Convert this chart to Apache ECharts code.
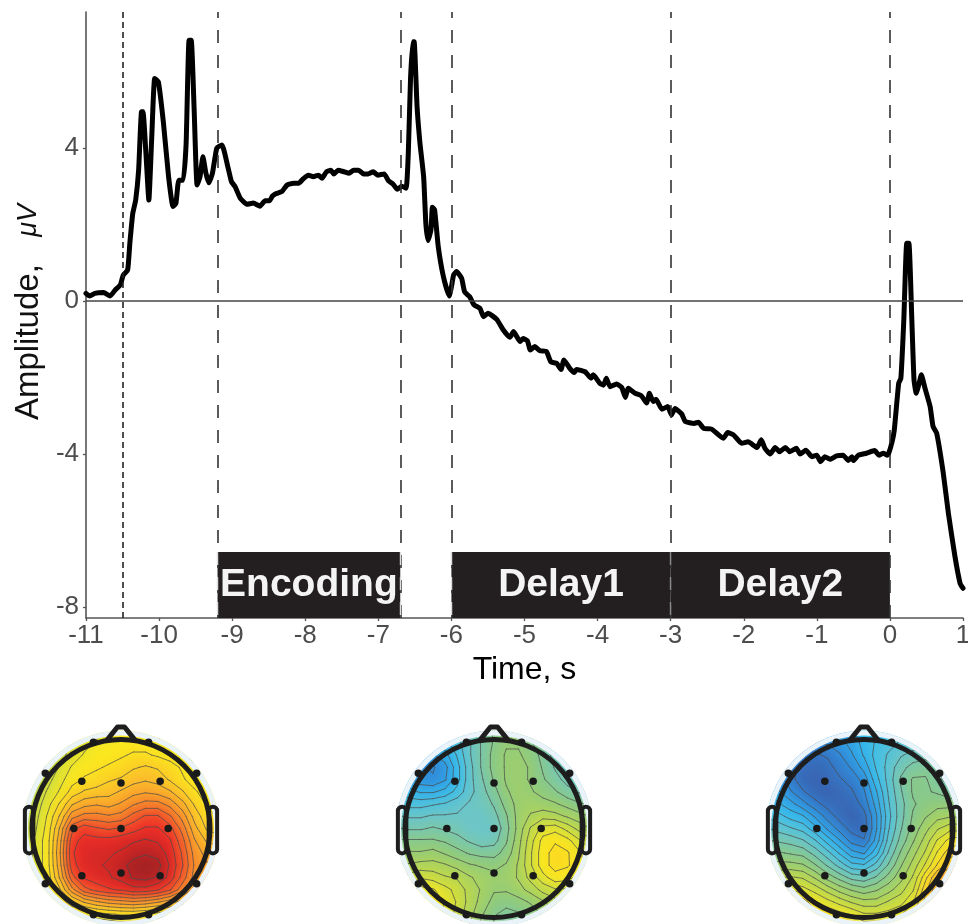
<!DOCTYPE html>
<html><head><meta charset="utf-8">
<style>
html,body{margin:0;padding:0;background:#fff;width:968px;height:924px;overflow:hidden}
#heat,#main{position:absolute;left:0;top:0;width:968px;height:924px}
#heat{filter:blur(5px)}
</style>
<script src="https://cdn.jsdelivr.net/npm/echarts@6/dist/echarts.min.js"></script>
</head><body>
<div id="heat"></div><div id="main"></div>
<script>
const times=[-11,-10.95,-10.88,-10.76,-10.67,-10.6,-10.53,-10.49,-10.43,-10.4,-10.36,-10.32,-10.28,-10.24,-10.22,-10.18,-10.14,-10.1,-10.06,-10.01,-9.94,-9.87,-9.81,-9.77,-9.73,-9.67,-9.63,-9.59,-9.56,-9.52,-9.48,-9.44,-9.4,-9.36,-9.32,-9.27,-9.21,-9.14,-9.07,-9.01,-8.96,-8.89,-8.8,-8.71,-8.62,-8.55,-8.49,-8.45,-8.41,-8.32,-8.25,-8.16,-8.09,-8.03,-7.96,-7.89,-7.82,-7.77,-7.71,-7.65,-7.61,-7.55,-7.47,-7.4,-7.34,-7.27,-7.2,-7.14,-7.07,-7.01,-6.92,-6.86,-6.8,-6.74,-6.68,-6.62,-6.59,-6.56,-6.53,-6.51,-6.47,-6.43,-6.38,-6.35,-6.32,-6.28,-6.26,-6.23,-6.18,-6.11,-6.03,-6,-5.97,-5.93,-5.86,-5.82,-5.75,-5.69,-5.61,-5.56,-5.5,-5.38,-5.29,-5.2,-5.15,-5.06,-5.02,-4.96,-4.92,-4.86,-4.79,-4.7,-4.64,-4.56,-4.5,-4.46,-4.38,-4.32,-4.29,-4.17,-4.09,-4.06,-3.97,-3.92,-3.88,-3.83,-3.74,-3.67,-3.62,-3.58,-3.49,-3.4,-3.33,-3.29,-3.24,-3.2,-3.12,-3.04,-2.99,-2.94,-2.85,-2.8,-2.68,-2.62,-2.55,-2.44,-2.28,-2.22,-2.14,-2.03,-1.94,-1.82,-1.76,-1.71,-1.64,-1.57,-1.51,-1.43,-1.37,-1.28,-1.23,-1.15,-1.07,-1,-0.95,-0.89,-0.82,-0.73,-0.64,-0.57,-0.52,-0.5,-0.43,-0.32,-0.21,-0.15,-0.09,-0.04,-0.02,0.03,0.06,0.12,0.15,0.19,0.23,0.26,0.3,0.33,0.36,0.4,0.43,0.48,0.55,0.59,0.64,0.73,0.8,0.89,0.96,1];
const amplitude=[0.2,0.13,0.2,0.22,0.13,0.29,0.42,0.68,0.81,1.51,2.29,2.64,3.42,4.95,4.95,3.86,2.64,4.3,5.82,5.73,4.65,3.25,2.47,2.55,3.16,3.16,4.12,6.82,6.82,4.99,3.03,3.25,3.77,3.35,3.09,3.34,4,4.08,3.6,3.12,2.99,2.69,2.53,2.56,2.48,2.62,2.62,2.74,2.8,2.86,3.03,3.08,3.08,3.19,3.29,3.25,3.29,3.21,3.38,3.42,3.32,3.42,3.38,3.34,3.42,3.42,3.32,3.32,3.38,3.29,3.32,3.14,3.06,2.92,3,2.95,3.86,5.78,6.78,6.78,5.08,4.12,3.25,2.03,1.58,1.86,2.45,2.38,1.42,0.64,0.13,0.37,0.68,0.77,0.59,0.24,0.11,-0.1,-0.19,-0.41,-0.32,-0.48,-0.76,-0.95,-0.8,-1.06,-0.98,-1.04,-1.28,-1.19,-1.3,-1.32,-1.59,-1.63,-1.79,-1.54,-1.76,-1.87,-1.79,-1.85,-2.02,-1.93,-2.15,-2.2,-2.02,-2.24,-2.17,-2.26,-2.52,-2.28,-2.41,-2.48,-2.67,-2.41,-2.63,-2.57,-2.83,-2.76,-2.98,-2.81,-2.95,-3.15,-3.2,-3.17,-3.33,-3.35,-3.59,-3.44,-3.5,-3.72,-3.68,-3.83,-3.63,-3.85,-4,-3.83,-3.94,-3.83,-3.94,-3.85,-4,-3.9,-4.07,-4.03,-4.2,-4.07,-4.14,-4.05,-4.03,-4.17,-4.07,-4.17,-4.03,-3.98,-3.91,-4.03,-3.98,-4.03,-4,-3.68,-3.37,-2.15,-2.02,-0.5,1.51,1.51,-0.5,-2.07,-2.41,-2.15,-1.93,-2.28,-2.76,-3.28,-3.46,-4.5,-5.55,-6.68,-7.38,-7.51];
const xTicks=[-11,-10,-9,-8,-7,-6,-5,-4,-3,-2,-1,0,1];
const yTicks=[-8,-4,0,4];
const eventTimes=[-9.2,-6.7,-6,-3,0];
const cueTime=-10.5;
const barNames=['Encoding','Delay1','Delay2'];
const barStarts=[-9.2,-6,-3];
const barEnds=[-6.7,-3,0];
const barTop=-6.56;
const electrodeU=[-0.44,0,0.44,-0.53,0,0.53,-0.44,0,0.44,-0.31,0.31,-0.85,0.85,-0.85,0.85,-0.31,0.31];
const electrodeV=[0.53,0.51,0.53,0,0,0,-0.53,-0.5,-0.53,0.97,0.97,0.62,0.62,-0.62,-0.62,-0.97,-0.97];
const mapEncoding=[
[5.5,5.5,5.5,5.5,5.5,5.5,5.6,5.8,6,6,5.8,5.6,5.5,5.5,5.5,5.5,5.5],
[5,5,5,5.2,5.4,5.6,5.8,5.9,6,6,6,5.9,5.6,5.4,5.2,5,5],
[4.8,4.8,5,5.2,5.5,5.8,6,6,6.1,6.2,6.2,6.1,6,5.8,5.5,5.2,5.2],
[4.8,4.8,5,5.4,5.8,6,6.1,6.2,6.3,6.5,6.6,6.5,6.3,6.1,5.9,5.6,5.5],
[4.8,4.9,5.2,5.6,6,6.2,6.3,6.5,6.6,6.8,6.9,6.8,6.5,6.2,6,5.8,5.7],
[4.9,5,5.4,5.8,6.3,6.6,6.7,6.8,7,7.2,7.3,7.2,7,6.6,6.2,6,5.9],
[5,5.1,5.6,6.2,6.9,7.2,7.3,7.2,7.4,7.7,7.9,7.9,7.6,7.1,6.5,6.1,6],
[5,5.2,5.8,6.6,7.6,7.9,7.9,7.8,7.9,8.3,8.6,8.6,8.2,7.6,6.8,6.3,6.1],
[5.1,5.3,5.9,7,8.4,8.8,8.6,8.5,8.6,8.8,9,9,8.7,8,7.1,6.5,6.3],
[5.1,5.4,6,7.2,8.8,9.1,9.1,9.1,9.2,9.3,9.4,9.3,9,8.3,7.4,6.9,6.8],
[5.2,5.4,6,7.3,8.9,9.2,9.3,9.3,9.4,9.6,9.7,9.6,9.2,8.5,7.6,7.2,7.2],
[5.2,5.4,6,7.2,8.8,9.2,9.3,9.4,9.6,9.9,10,9.9,9.3,8.6,7.7,7.4,7.4],
[5.2,5.4,5.9,7,8.4,9,9.2,9.3,9.5,9.8,9.9,9.7,9.2,8.4,7.6,7.3,7.3],
[5.1,5.2,5.7,6.5,7.6,8.4,8.7,8.9,9,9.2,9.2,9,8.6,7.9,7.2,7,7],
[5,5,5.3,5.8,6.5,7,7.3,7.5,7.6,7.7,7.6,7.4,7.1,6.8,6.5,6.5,6.5],
[4.8,4.8,4.9,5.2,5.5,5.8,6,6.1,6.2,6.2,6.1,6,5.8,5.7,5.8,6,6],
[4.6,4.6,4.7,4.8,5,5.2,5.3,5.4,5.5,5.5,5.4,5.3,5.2,5.2,5.4,5.6,5.8]];
const mapDelay1=[
[2.5,2.3,2.2,2.2,2.3,2.6,3,3.4,3.8,4,4,3.8,3.5,3.2,3,2.8,2.8],
[2.2,2,1.9,1.8,2,2.4,2.9,3.4,3.8,4.1,4.1,3.8,3.5,3.2,3,2.8,2.8],
[2,1.7,1.4,1.3,1.6,2.2,2.9,3.4,3.9,4.2,4.2,4,3.6,3.2,3,2.8,2.8],
[1.9,1.4,1,0.9,1.2,2,2.8,3.4,3.9,4.2,4.3,4.1,3.7,3.3,3,2.9,2.9],
[2,1.5,1.1,1,1.3,2,2.8,3.3,3.8,4.2,4.3,4.1,3.8,3.5,3.2,3,3],
[2.2,1.9,1.7,1.7,1.9,2.3,2.8,3.2,3.6,4.1,4.3,4.2,4,3.8,3.5,3.3,3.3],
[2.6,2.4,2.4,2.5,2.6,2.8,3,3.1,3.4,3.9,4.3,4.4,4.3,4.2,4,3.8,3.7],
[3,2.9,2.9,3,3,3,3,3,3.2,3.7,4.3,4.6,4.8,4.7,4.5,4.3,4.1],
[3.4,3.3,3.3,3.4,3.3,3.2,3,3,3,3.6,4.3,5,5.5,5.6,5.2,4.8,4.5],
[3.8,3.8,3.8,3.8,3.7,3.5,3.3,3.1,3.2,3.7,4.4,5.2,5.9,6.1,5.9,5.4,5],
[4.1,4.2,4.2,4.3,4.1,3.9,3.7,3.6,3.6,3.9,4.5,5.3,6,6.3,6.2,5.8,5.4],
[4.4,4.6,4.7,4.7,4.6,4.4,4.2,4.1,4,4.2,4.6,5.3,6,6.3,6.2,5.9,5.5],
[4.8,5.1,5.3,5.2,5,4.9,4.6,4.4,4.3,4.3,4.6,5.1,5.6,6,5.9,5.6,5.4],
[5.2,5.6,5.9,5.8,5.5,5.2,4.8,4.5,4.2,4.2,4.4,4.7,5.1,5.3,5.3,5.2,5.2],
[5.4,5.9,6.1,6.1,5.7,5.3,4.8,4.4,4,3.9,4,4.2,4.5,4.8,4.9,4.9,5],
[5.4,5.8,6,6,5.7,5.2,4.7,4.2,3.8,3.6,3.7,3.9,4.2,4.5,4.6,4.7,4.8],
[5.2,5.5,5.7,5.7,5.4,5,4.5,4,3.7,3.5,3.6,3.8,4,4.3,4.4,4.5,4.6]];
const mapDelay2=[
[1.8,1.8,1.7,1.6,1.5,1.5,1.6,1.7,1.9,2.1,2.3,2.5,2.6,2.7,2.7,2.7,2.7],
[1.6,1.5,1.4,1.2,1,1,1.2,1.5,1.9,2.2,2.4,2.6,2.7,2.8,2.8,2.7,2.7],
[1.6,1.3,1,0.7,0.5,0.6,0.9,1.3,1.8,2.3,2.6,2.9,3.1,3.2,3.1,2.9,2.8],
[1.6,1.2,0.7,0.4,0.3,0.4,0.7,1,1.5,2.2,2.7,3.2,3.5,3.6,3.4,3.1,2.9],
[1.7,1.2,0.7,0.3,0.2,0.3,0.5,0.7,1.1,2,2.7,3.4,3.8,3.8,3.5,3.1,3],
[1.8,1.4,1,0.6,0.3,0.2,0.3,0.5,0.9,1.7,2.6,3.3,3.8,3.8,3.7,3.5,3.3],
[2.1,1.8,1.5,1.1,0.7,0.4,0.3,0.3,0.7,1.5,2.5,3.2,3.7,3.9,4,4,3.9],
[2.5,2.3,2,1.8,1.3,0.8,0.4,0.2,0.4,1.3,2.4,3.2,3.8,4.1,4.4,4.5,4.5],
[3,2.8,2.6,2.4,1.9,1.3,0.8,0.4,0.3,1.3,2.5,3.3,3.9,4.4,4.9,5.2,5.2],
[3.4,3.3,3.2,3,2.6,2,1.4,0.8,0.6,1.5,2.7,3.5,4.1,4.7,5.4,5.9,6],
[3.8,3.8,3.7,3.6,3.2,2.7,2.1,1.5,1.3,2,3,3.8,4.4,5,5.8,6.4,6.5],
[4.2,4.3,4.3,4.2,3.8,3.3,2.8,2.3,2.2,2.7,3.4,4.1,4.7,5.4,6.2,6.8,7],
[4.7,4.9,5,4.9,4.5,4,3.6,3.2,3.1,3.4,3.9,4.4,5,6,7,7.7,7.9],
[5.6,5.8,5.7,5.5,5.2,4.8,4.4,4.1,3.9,4.1,4.4,4.8,5.3,6.4,7.3,8,8.2],
[7,7.2,6.9,6.4,5.8,5.5,5.2,4.9,4.7,4.7,5,5.2,5.7,6.7,7.5,8,8.2],
[7.4,7.5,7.2,6.7,6.4,6.1,5.9,5.7,5.4,5.4,5.5,5.7,6.1,6.6,7.2,7.8,8],
[7.8,7.8,7.5,7.1,6.8,6.6,6.4,6.2,6,6,6,6.2,6.5,6.9,7.3,7.7,8]];
const colourScale=['#3a59a8','#2f8ddb','#35bdee','#6cc5c6','#8fca7c','#bdd84a','#fbe81e','#fbb62a','#f47a2b','#ee2b26','#a32022'];

const maps=[mapEncoding,mapDelay1,mapDelay2];
const centers=[121,494,864], cy=828.5, R=89;
const yMin=-8.288,yMax=7.556;
const N=17, step=2.2/16;
const cats=Array.from({length:N},(_,i)=>i);

/* ---- colour fields (blurred underlay) ---- */
const cellPx=step*R, gridPx=cellPx*N;
const mid=(N-1)/2;
echarts.init(document.getElementById('heat')).setOption({
  animation:false,backgroundColor:'#fff',
  visualMap:{show:false,min:0,max:10,dimension:2,inRange:{color:colourScale}},
  grid:centers.map(c=>({left:c-gridPx/2,top:cy-gridPx/2,width:gridPx,height:gridPx,outerBoundsMode:'none'})),
  xAxis:centers.map((c,i)=>({type:'category',gridIndex:i,data:cats,show:false})),
  yAxis:centers.map((c,i)=>({type:'category',gridIndex:i,data:cats,show:false,inverse:true})),
  series:maps.map((m,k)=>({type:'heatmap',xAxisIndex:k,yAxisIndex:k,
    data:m.flatMap((row,j)=>row.map((v,i)=>[i,j,v])).filter(d=>Math.hypot(d[0]-mid,d[1]-mid)*step<1.3)}))
});

/* ---- contour segments derived from the value fields ---- */
function contours(m){
  const segs=[];
  const U=i=>-1.1+i*step, V=j=>1.1-j*step;
  for(let L=0.15;L<10;L+=0.4){
    for(let j=0;j<N-1;j++)for(let i=0;i<N-1;i++){
      const a=m[j][i],b=m[j][i+1],c=m[j+1][i+1],d=m[j+1][i];
      const pts=[];
      const cross=(p,q,x1,y1,x2,y2)=>{ if((p<L)!==(q<L)){const t=(L-p)/(q-p);pts.push([x1+(x2-x1)*t,y1+(y2-y1)*t]);} };
      cross(a,b,U(i),V(j),U(i+1),V(j));
      cross(b,c,U(i+1),V(j),U(i+1),V(j+1));
      cross(c,d,U(i+1),V(j+1),U(i),V(j+1));
      cross(d,a,U(i),V(j+1),U(i),V(j));
      if(pts.length>=2)segs.push([pts[0][0],pts[0][1],pts[1][0],pts[1][1]]);
      if(pts.length===4)segs.push([pts[2][0],pts[2][1],pts[3][0],pts[3][1]]);
    }
  }
  return segs;
}
const headSeries=[];
centers.forEach((c,k)=>{
  const idx=k+1;
  headSeries.push({type:'custom',xAxisIndex:idx,yAxisIndex:idx,z:5,clip:false,silent:true,
    data:contours(maps[k]),dimensions:['a','b','c','d'],encode:{x:[0,2],y:[1,3]},
    renderItem:(p,api)=>{
      const s=api.coord([api.value(0),api.value(1)]),e=api.coord([api.value(2),api.value(3)]);
      return {type:'line',shape:{x1:s[0],y1:s[1],x2:e[0],y2:e[1]},style:{stroke:'#4a4a4a',lineWidth:1,opacity:0.7,lineCap:'round'}};
    }});
  headSeries.push({type:'custom',xAxisIndex:idx,yAxisIndex:idx,z:6,clip:false,silent:true,
    data:[[0,0]],encode:{x:0,y:1},
    renderItem:(p,api)=>{
      const o=api.coord([0,0]),r=api.size([1,0])[0];
      const pt=(u,v)=>api.coord([u,v]);
      const a=pt(-1.08,0.245),b=pt(-0.985,-0.28),a2=pt(0.985,0.245),b2=pt(1.08,-0.28);
      const line={stroke:'#1e1e1e',lineWidth:5,fill:null,lineJoin:'round',lineCap:'round'};
      const ear={stroke:'#1e1e1e',lineWidth:4,fill:null};
      return {type:'group',children:[
        {type:'circle',shape:{cx:o[0],cy:o[1],r:124},style:{fill:null,stroke:'#fff',lineWidth:52}},
        {type:'circle',shape:{cx:o[0],cy:o[1],r:95.5},style:{fill:null,stroke:'#eaf3fa',lineWidth:5}},
        {type:'rect',shape:{x:a[0],y:a[1],width:b[0]-a[0],height:b[1]-a[1],r:5},style:ear},
        {type:'rect',shape:{x:a2[0],y:a2[1],width:b2[0]-a2[0],height:b2[1]-a2[1],r:5},style:ear},
        {type:'polyline',shape:{points:[pt(-0.16,0.99),pt(-0.04,1.14),pt(0.04,1.14),pt(0.16,0.99)]},style:line},
        {type:'circle',shape:{cx:o[0],cy:o[1],r:r},style:line}
      ]};
    }});
  headSeries.push({type:'scatter',xAxisIndex:idx,yAxisIndex:idx,z:7,silent:true,symbolSize:7.5,
    itemStyle:{color:'#1a1a1a',opacity:1},clip:false,data:electrodeU.map((u,i)=>[u,electrodeV[i]])});
});

const axisGray='#555', labelGray='#4d4d4d', font='"Liberation Sans", Arial, sans-serif';
const dashLines=eventTimes.map(t=>({xAxis:t,lineStyle:{type:[13,12],color:'#333',width:1.6}}));
dashLines.unshift({xAxis:cueTime,lineStyle:{type:[6,4],color:'#222',width:1.6}});
const edge=(t,col)=>[{coord:[t,barTop],lineStyle:{type:[13,12],color:col,width:1.4}},{coord:[t,yMin]}];

echarts.init(document.getElementById('main')).setOption({
  animation:false,backgroundColor:'transparent',
  textStyle:{fontFamily:font},
  grid:[{left:86,top:12,width:877,height:606,outerBoundsMode:'none'}].concat(
    centers.map(c=>({left:c-1.1*R,top:cy-1.1*R,width:2.2*R,height:2.2*R,outerBoundsMode:'none'}))),
  xAxis:[{type:'value',min:-11,max:1,interval:1,splitLine:{show:false},
    axisLine:{onZero:false,lineStyle:{color:axisGray,width:1.6}},
    axisTick:{length:3,lineStyle:{color:axisGray,width:1.3}},
    axisLabel:{color:labelGray,fontSize:26,margin:5,fontFamily:font,customValues:xTicks,formatter:v=>String(v)},
    name:'Time, s',nameLocation:'middle',nameGap:27,
    nameTextStyle:{color:'#000',fontSize:32,fontFamily:font}
  }].concat(centers.map((c,i)=>({type:'value',gridIndex:i+1,min:-1.1,max:1.1,show:false}))),
  yAxis:[{type:'value',min:yMin,max:yMax,splitLine:{show:false},
    axisLine:{onZero:false,lineStyle:{color:axisGray,width:1.6}},
    axisTick:{length:3,customValues:yTicks,lineStyle:{color:axisGray,width:1.3}},
    axisLabel:{color:labelGray,fontSize:26,margin:7,padding:[3,0,0,0],fontFamily:font,customValues:yTicks,formatter:v=>String(v)},
    name:'Amplitude,   {u|μV}',nameLocation:'middle',nameGap:41,nameRotate:90,
    nameTextStyle:{color:'#111',fontSize:33,fontFamily:font,padding:[0,0,0,6],
      rich:{u:{fontSize:27,fontStyle:'italic',fontFamily:font,color:'#111'}}}
  }].concat(centers.map((c,i)=>({type:'value',gridIndex:i+1,min:-1.1,max:1.1,show:false}))),
  series:[
    {type:'line',name:'events',data:[],z:1,silent:true,
      markLine:{silent:true,symbol:'none',label:{show:false},animation:false,
        data:dashLines.concat([[{coord:[-11,0],lineStyle:{type:'solid',color:'#444',width:1.5}},{coord:[1,0]}]])}},
    {type:'line',name:'bars',data:[],z:2,silent:true,
      markArea:{silent:true,itemStyle:{color:'#231f20'},
        label:{show:true,position:'inside',color:'#f4f4f4',fontSize:39,fontWeight:'bold',fontFamily:font},
        data:barNames.map((n,i)=>[{name:n,coord:[barStarts[i],barTop]},{coord:[barEnds[i],yMin]}])},
      markLine:{silent:true,symbol:'none',label:{show:false},animation:false,
        data:[edge(-3,'#8a8a8a'),edge(-9.2,'#ddd'),edge(-6.7,'#ddd'),edge(-6,'#ddd')]}},
    {type:'line',name:'Amplitude',z:3,silent:true,showSymbol:false,smooth:0.15,
      data:times.map((t,i)=>[t,amplitude[i]]),
      lineStyle:{color:'#000',width:5,join:'round',cap:'round'}}
  ].concat(headSeries)
});
</script>
</body></html>
